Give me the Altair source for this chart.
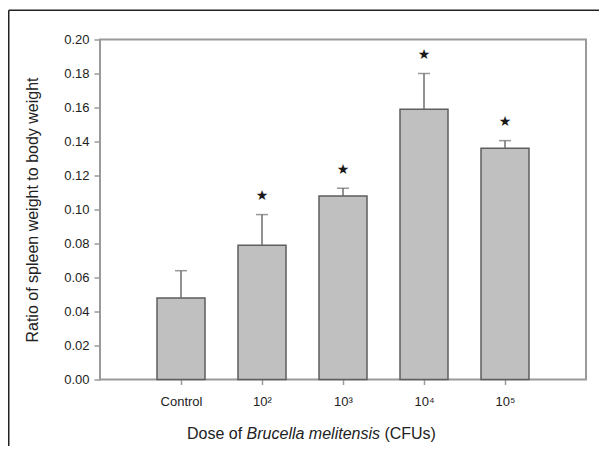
import altair as alt
import pandas as pd

groups = ["Control", "10²", "10³", "10⁴", "10⁵"]
means = [0.048, 0.079, 0.108, 0.159, 0.136]
errors = [0.016, 0.018, 0.0045, 0.021, 0.0045]
significant = [False, True, True, True, True]
y_ticks = [0.00, 0.02, 0.04, 0.06, 0.08, 0.10, 0.12, 0.14, 0.16, 0.18, 0.20]
y_title = "Ratio of spleen weight to body weight"
x_title_parts = ["Dose of", "Brucella melitensis", "(CFUs)"]

df = pd.DataFrame({"group": groups, "mean": means, "err": errors, "sig": significant})

FONT = "Liberation Sans"
FRAME = "#9a9a9a"

x_axis = alt.Axis(title=None, labelAngle=0, domain=False, grid=False, ticks=True,
                  tickSize=5, tickColor=FRAME, tickWidth=1.5, labelPadding=11,
                  labelFontSize=13, labelFont=FONT, labelColor="#222")
y_axis = alt.Axis(title=y_title, values=y_ticks, format=".2f", domain=False, grid=False,
                  tickSize=6, tickColor=FRAME, tickWidth=1.5, labelPadding=5,
                  labelFontSize=13, labelFont=FONT, labelColor="#222",
                  titleFont=FONT, titleFontSize=16, titleFontWeight="normal", titleColor="#222",
                  titleX=-62.5, titleY=170, titleAngle=270, titleAlign="center",
                  titleBaseline="alphabetic")

x_enc = alt.X("group:N", sort=groups, scale=alt.Scale(type="point", padding=1), axis=x_axis)
y_scale = alt.Scale(domain=[0, 0.2], nice=False, zero=True)

base = alt.Chart(df).transform_calculate(top="datum.mean + datum.err")

bars = base.mark_bar(size=48, color="#c0c0c0", stroke="#5e5e5e", strokeWidth=1.5).encode(
    x=x_enc, y=alt.Y("mean:Q", scale=y_scale, axis=y_axis))

err_line = base.mark_rule(color="#6e6e6e", strokeWidth=1.5).encode(
    x=x_enc, y=alt.Y("mean:Q", scale=y_scale, axis=y_axis), y2="top:Q")

caps = base.mark_tick(orient="horizontal", size=12, thickness=1.5, color="#6e6e6e").encode(
    x=x_enc, y=alt.Y("top:Q", scale=y_scale, axis=y_axis))

stars = base.transform_filter("datum.sig").mark_text(
    text="★", dy=-18.5, fontSize=14, font="DejaVu Sans", color="#1a1a1a", baseline="middle"
).encode(x=x_enc, y=alt.Y("top:Q", scale=y_scale, axis=y_axis))


def title_piece(txt, xpos, style):
    return alt.Chart(pd.DataFrame({"t": [txt]})).mark_text(
        font=FONT, fontSize=16, fontStyle=style, color="#222", align="left",
        baseline="alphabetic"
    ).encode(text="t:N", x=alt.value(xpos), y=alt.value(399.5))


t1 = title_piece(x_title_parts[0], 87, "normal")
t2 = title_piece(x_title_parts[1], 146.6, "italic")
t3 = title_piece(x_title_parts[2], 284.4, "normal")

border_top = alt.Chart(pd.DataFrame({"a": [0]})).mark_rule(color="#222", strokeWidth=1.5).encode(
    x=alt.value(-91.25), x2=alt.value(600), y=alt.value(-29.2))
border_left = alt.Chart(pd.DataFrame({"a": [0]})).mark_rule(color="#222", strokeWidth=1.5).encode(
    x=alt.value(-91.25), y=alt.value(-29.2), y2=alt.value(600))

chart = alt.layer(bars, err_line, caps, stars, t1, t2, t3, border_top, border_left).properties(
    width=486, height=340,
    autosize=alt.AutoSizeParams(type="none"),
    padding={"left": 92, "top": 31.5, "right": 13, "bottom": 66},
    background="white",
).configure_view(stroke=FRAME, strokeWidth=2)

chart.save("out.html", embed_options={"renderer": "svg", "actions": False})
